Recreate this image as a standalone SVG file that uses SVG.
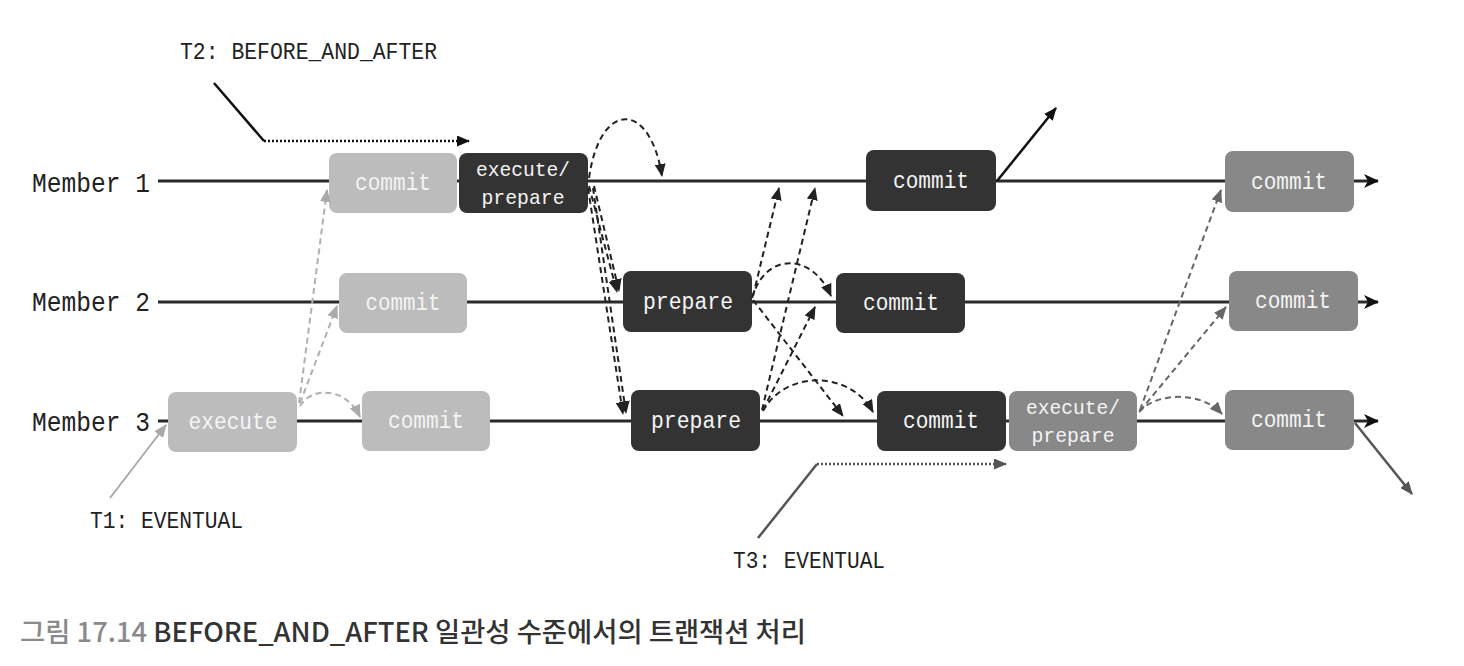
<svg xmlns="http://www.w3.org/2000/svg" width="1464" height="666" viewBox="0 0 1464 666">
<defs>
<style>
.lbl{font-family:"Liberation Mono","DejaVu Sans Mono",monospace;fill:#222;}
.bt{font-family:"Liberation Mono","DejaVu Sans Mono",monospace;fill:#f4f4f4;text-anchor:middle;}
.lane{stroke:#2a2a2a;stroke-width:3;fill:none;}
.light{fill:#bcbcbc;}
.dark{fill:#333333;}
.gray{fill:#888888;}
.dd{stroke:#222;stroke-width:2;fill:none;stroke-dasharray:6 4;}
.dl{stroke:#b0b0b0;stroke-width:2;fill:none;stroke-dasharray:6 4;}
.dg{stroke:#666;stroke-width:2;fill:none;stroke-dasharray:6 4;}
.dot{stroke-width:2.5;fill:none;stroke-dasharray:2 2;}
</style>
<marker id="aLane" markerUnits="userSpaceOnUse" markerWidth="16" markerHeight="16" refX="14" refY="8" orient="auto"><path d="M0,1 L15,8 L0,15 L4,8 z" fill="#111"/></marker>
<marker id="aDark" markerUnits="userSpaceOnUse" markerWidth="13" markerHeight="11" refX="12" refY="5.5" orient="auto"><path d="M0,0 L13,5.5 L0,11 z" fill="#222"/></marker>
<marker id="aLight" markerUnits="userSpaceOnUse" markerWidth="13" markerHeight="11" refX="12" refY="5.5" orient="auto"><path d="M0,0 L13,5.5 L0,11 z" fill="#aaaaaa"/></marker>
<marker id="aGray" markerUnits="userSpaceOnUse" markerWidth="13" markerHeight="11" refX="12" refY="5.5" orient="auto"><path d="M0,0 L13,5.5 L0,11 z" fill="#666"/></marker>
<marker id="aBlack" markerUnits="userSpaceOnUse" markerWidth="13" markerHeight="11" refX="12" refY="5.5" orient="auto"><path d="M0,0 L13,5.5 L0,11 z" fill="#111"/></marker>
<marker id="aGray2" markerUnits="userSpaceOnUse" markerWidth="13" markerHeight="11" refX="12" refY="5.5" orient="auto"><path d="M0,0 L13,5.5 L0,11 z" fill="#555"/></marker>
</defs>
<rect width="1464" height="666" fill="#ffffff"/>

<g id="lanes">
<line class="lane" x1="158" y1="181" x2="1378" y2="181" marker-end="url(#aLane)"/>
<line class="lane" x1="158" y1="302" x2="1378" y2="302" marker-end="url(#aLane)"/>
<line class="lane" x1="158" y1="421" x2="1378" y2="421" marker-end="url(#aLane)"/>
</g>

<g id="labels">
<text class="lbl" x="32" y="192" font-size="27" textLength="118" lengthAdjust="spacingAndGlyphs">Member 1</text>
<text class="lbl" x="32" y="311" font-size="27" textLength="118" lengthAdjust="spacingAndGlyphs">Member 2</text>
<text class="lbl" x="32" y="431" font-size="27" textLength="118" lengthAdjust="spacingAndGlyphs">Member 3</text>
<text class="lbl" x="180" y="59" font-size="24" textLength="257" lengthAdjust="spacingAndGlyphs">T2: BEFORE_AND_AFTER</text>
<text class="lbl" x="90" y="528" font-size="24" textLength="153" lengthAdjust="spacingAndGlyphs">T1: EVENTUAL</text>
<text class="lbl" x="733" y="568" font-size="24" textLength="152" lengthAdjust="spacingAndGlyphs">T3: EVENTUAL</text>
</g>

<g id="m1-commit1"><rect class="light" x="329" y="153" width="128" height="60" rx="8"/><text class="bt" x="393" y="190" font-size="23" textLength="76" lengthAdjust="spacingAndGlyphs">commit</text></g>
<g id="m1-execprep"><rect class="dark" x="459" y="153" width="129" height="60" rx="8"/><text class="bt" x="523" y="176" font-size="21" textLength="94" lengthAdjust="spacingAndGlyphs">execute/</text><text class="bt" x="523" y="204" font-size="21" textLength="83" lengthAdjust="spacingAndGlyphs">prepare</text></g>
<g id="m1-commit2"><rect class="dark" x="866" y="150" width="130" height="61" rx="8"/><text class="bt" x="931" y="188" font-size="23" textLength="76" lengthAdjust="spacingAndGlyphs">commit</text></g>
<g id="m1-commit3"><rect class="gray" x="1225" y="151" width="129" height="61" rx="8"/><text class="bt" x="1289" y="189" font-size="23" textLength="76" lengthAdjust="spacingAndGlyphs">commit</text></g>

<g id="m2-commit1"><rect class="light" x="339" y="273" width="128" height="60" rx="8"/><text class="bt" x="403" y="310" font-size="23" textLength="75" lengthAdjust="spacingAndGlyphs">commit</text></g>
<g id="m2-prepare"><rect class="dark" x="623" y="271" width="129" height="61" rx="8"/><text class="bt" x="688" y="309" font-size="23" textLength="90" lengthAdjust="spacingAndGlyphs">prepare</text></g>
<g id="m2-commit2"><rect class="dark" x="836" y="273" width="129" height="60" rx="8"/><text class="bt" x="901" y="310" font-size="23" textLength="76" lengthAdjust="spacingAndGlyphs">commit</text></g>
<g id="m2-commit3"><rect class="gray" x="1229" y="271" width="129" height="60" rx="8"/><text class="bt" x="1293" y="308" font-size="23" textLength="76" lengthAdjust="spacingAndGlyphs">commit</text></g>

<g id="m3-execute"><rect class="light" x="168" y="392" width="129" height="60" rx="8"/><text class="bt" x="233" y="429" font-size="23" textLength="89" lengthAdjust="spacingAndGlyphs">execute</text></g>
<g id="m3-commit1"><rect class="light" x="362" y="391" width="128" height="60" rx="8"/><text class="bt" x="426" y="428" font-size="23" textLength="76" lengthAdjust="spacingAndGlyphs">commit</text></g>
<g id="m3-prepare"><rect class="dark" x="631" y="390" width="129" height="61" rx="8"/><text class="bt" x="696" y="428" font-size="23" textLength="90" lengthAdjust="spacingAndGlyphs">prepare</text></g>
<g id="m3-commit2"><rect class="dark" x="877" y="391" width="129" height="60" rx="8"/><text class="bt" x="941" y="428" font-size="23" textLength="76" lengthAdjust="spacingAndGlyphs">commit</text></g>
<g id="m3-execprep"><rect class="gray" x="1009" y="391" width="128" height="60" rx="8"/><text class="bt" x="1073" y="414" font-size="21" textLength="94" lengthAdjust="spacingAndGlyphs">execute/</text><text class="bt" x="1073" y="442" font-size="21" textLength="83" lengthAdjust="spacingAndGlyphs">prepare</text></g>
<g id="m3-commit3"><rect class="gray" x="1225" y="390" width="129" height="60" rx="8"/><text class="bt" x="1289" y="427" font-size="23" textLength="76" lengthAdjust="spacingAndGlyphs">commit</text></g>

<g id="connectors">
<!-- T2 pointer -->
<line x1="214" y1="83" x2="264" y2="141" stroke="#111" stroke-width="2.5"/>
<line class="dot" x1="264" y1="141" x2="469" y2="141" stroke="#111" marker-end="url(#aBlack)"/>
<!-- T1 pointer -->
<line x1="110" y1="498" x2="166" y2="425" stroke="#aaaaaa" stroke-width="2" marker-end="url(#aLight)"/>
<!-- T3 pointer -->
<line x1="758" y1="538" x2="817" y2="464" stroke="#555" stroke-width="2.5"/>
<line class="dot" x1="817" y1="464" x2="1006" y2="464" stroke="#555" marker-end="url(#aGray2)"/>
<!-- outgoing -->
<line x1="997" y1="181" x2="1056" y2="108" stroke="#111" stroke-width="2.5" marker-end="url(#aBlack)"/>
<line x1="1355" y1="423" x2="1412" y2="494" stroke="#555" stroke-width="2.5" marker-end="url(#aGray2)"/>
<!-- T1 light -->
<line class="dl" x1="299" y1="403" x2="327" y2="190" marker-end="url(#aLight)"/>
<line class="dl" x1="300" y1="403" x2="337" y2="306" marker-end="url(#aLight)"/>
<path class="dl" d="M300,406 C310,388 345,385 360,417" marker-end="url(#aLight)"/>
<!-- T2 dark -->
<path class="dd" d="M589,178 C600,100 650,100 662,176" marker-end="url(#aDark)"/>
<line class="dd" x1="589" y1="186" x2="617" y2="292" marker-end="url(#aDark)"/>
<line class="dd" x1="594" y1="186" x2="619" y2="291" marker-end="url(#aDark)"/>
<line class="dd" x1="588" y1="188" x2="623" y2="414" marker-end="url(#aDark)"/>
<line class="dd" x1="593" y1="188" x2="626" y2="413" marker-end="url(#aDark)"/>
<line class="dd" x1="753" y1="296" x2="779" y2="188" marker-end="url(#aDark)"/>
<path class="dd" d="M752,298 C765,252 812,252 831,296" marker-end="url(#aDark)"/>
<line class="dd" x1="753" y1="300" x2="843" y2="416" marker-end="url(#aDark)"/>
<line class="dd" x1="762" y1="410" x2="815" y2="188" marker-end="url(#aDark)"/>
<line class="dd" x1="763" y1="410" x2="815" y2="307" marker-end="url(#aDark)"/>
<path class="dd" d="M763,411 C785,370 850,370 873,412" marker-end="url(#aDark)"/>
<!-- T3 gray -->
<line class="dg" x1="1140" y1="410" x2="1221" y2="190" marker-end="url(#aGray)"/>
<line class="dg" x1="1140" y1="411" x2="1226" y2="307" marker-end="url(#aGray)"/>
<path class="dg" d="M1139,412 C1155,393 1200,390 1222,414" marker-end="url(#aGray)"/>
</g>

<text x="20" y="642" font-family="'Noto Sans CJK KR','Noto Sans',sans-serif" font-size="27" font-weight="500" textLength="786" lengthAdjust="spacingAndGlyphs"><tspan fill="#8a8a8a">그림 17.14</tspan><tspan fill="#333"> BEFORE_AND_AFTER 일관성 수준에서의 트랜잭션 처리</tspan></text>
</svg>
